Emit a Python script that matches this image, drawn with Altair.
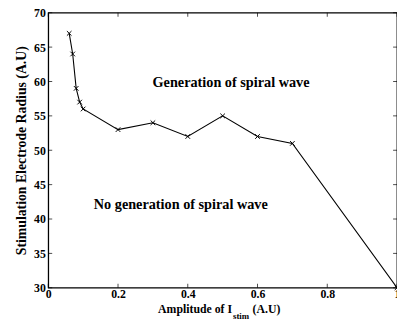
import altair as alt
import pandas as pd

amplitude = [0.06, 0.07, 0.08, 0.09, 0.10, 0.2, 0.3, 0.4, 0.5, 0.6, 0.7, 1.0]
radius = [67, 64, 59, 57, 56, 53, 54, 52, 55, 52, 51, 30]
x_ticks = [0, 0.2, 0.4, 0.6, 0.8, 1.0]
y_ticks = [30, 35, 40, 45, 50, 55, 60, 65, 70]
notes = ["Generation of spiral wave", "No generation of spiral wave"]
note_x = [0.524, 0.38]
note_y = [59.7, 42.0]

df = pd.DataFrame({"amp": amplitude, "rad": radius})
xt = pd.DataFrame({"v": x_ticks})
yt = pd.DataFrame({"v": y_ticks})
nd = pd.DataFrame({"t": notes, "x": note_x, "y": note_y})

FONT = "Liberation Serif"
W, H = 355, 280
TL = 4  # inward tick length

xs = alt.Scale(domain=[0, 1], nice=False, zero=False)
ys = alt.Scale(domain=[30, 70], nice=False, zero=False)

xaxis = alt.Axis(values=x_ticks, ticks=False, domain=False, grid=False, labelFont=FONT,
                 labelFontWeight="bold", labelFontSize=12, labelColor="black",
                 labelPadding=1, title=None, format="~g", labelOverlap=False,
                 labelFlush=False)
yaxis = alt.Axis(values=y_ticks, ticks=False, domain=False, grid=False, labelFont=FONT,
                 labelFontWeight="bold", labelFontSize=12, labelColor="black",
                 labelPadding=3, title="Stimulation Electrode Radius (A.U)",
                 titleFont=FONT, titleFontWeight="bold", titleFontSize=14,
                 titleColor="black", titlePadding=5, labelOverlap=False,
                 labelFlush=False)


def X(f):
    return alt.X(f, scale=xs, axis=xaxis)


def Y(f):
    return alt.Y(f, scale=ys, axis=yaxis)


line = alt.Chart(df).mark_line(color="black", strokeWidth=1.1).encode(
    x=X("amp:Q"), y=Y("rad:Q"))
pts = alt.Chart(df).mark_point(shape="M-1,-1L1,1M-1,1L1,-1", filled=False,
                               color="black", size=22, strokeWidth=1, opacity=1).encode(
    x=X("amp:Q"), y=Y("rad:Q"))

tick_kw = dict(color="black", size=TL, thickness=1)
tb = alt.Chart(xt).mark_tick(orient="vertical", **tick_kw).encode(
    x=X("v:Q"), y=alt.value(H - TL / 2))
tt = alt.Chart(xt).mark_tick(orient="vertical", **tick_kw).encode(
    x=X("v:Q"), y=alt.value(TL / 2))
tl = alt.Chart(yt).mark_tick(orient="horizontal", **tick_kw).encode(
    y=Y("v:Q"), x=alt.value(TL / 2))
tr = alt.Chart(yt).mark_tick(orient="horizontal", **tick_kw).encode(
    y=Y("v:Q"), x=alt.value(W - TL / 2))

txt = alt.Chart(nd).mark_text(font=FONT, fontWeight="bold", fontSize=14.5, color="black",
                              align="center", baseline="middle").encode(
    x=X("x:Q"), y=Y("y:Q"), text="t:N")

title_df = pd.DataFrame({"a": ["Amplitude of I"], "b": ["stim"], "c": ["(A.U)"]})
t1 = alt.Chart(title_df).mark_text(font=FONT, fontWeight="bold", fontSize=12, color="black",
                                   align="right", baseline="alphabetic").encode(
    x=alt.value(187), y=alt.value(306), text="a:N")
t2 = alt.Chart(title_df).mark_text(font=FONT, fontWeight="bold", fontSize=9, color="black",
                                   align="left", baseline="alphabetic").encode(
    x=alt.value(188), y=alt.value(312), text="b:N")
t3 = alt.Chart(title_df).mark_text(font=FONT, fontWeight="bold", fontSize=12, color="black",
                                   align="left", baseline="alphabetic").encode(
    x=alt.value(208), y=alt.value(306), text="c:N")

chart = alt.layer(line, pts, tb, tt, tl, tr, txt, t1, t2, t3).properties(
    width=W, height=H,
    autosize=alt.AutoSizeParams(type="none"),
    padding={"left": 41, "top": 2, "right": 0, "bottom": 30},
    background="white",
).configure_view(stroke="black", strokeWidth=1.3, clip=False)

chart.save("out.html", embed_options={"renderer": "svg", "actions": False})
